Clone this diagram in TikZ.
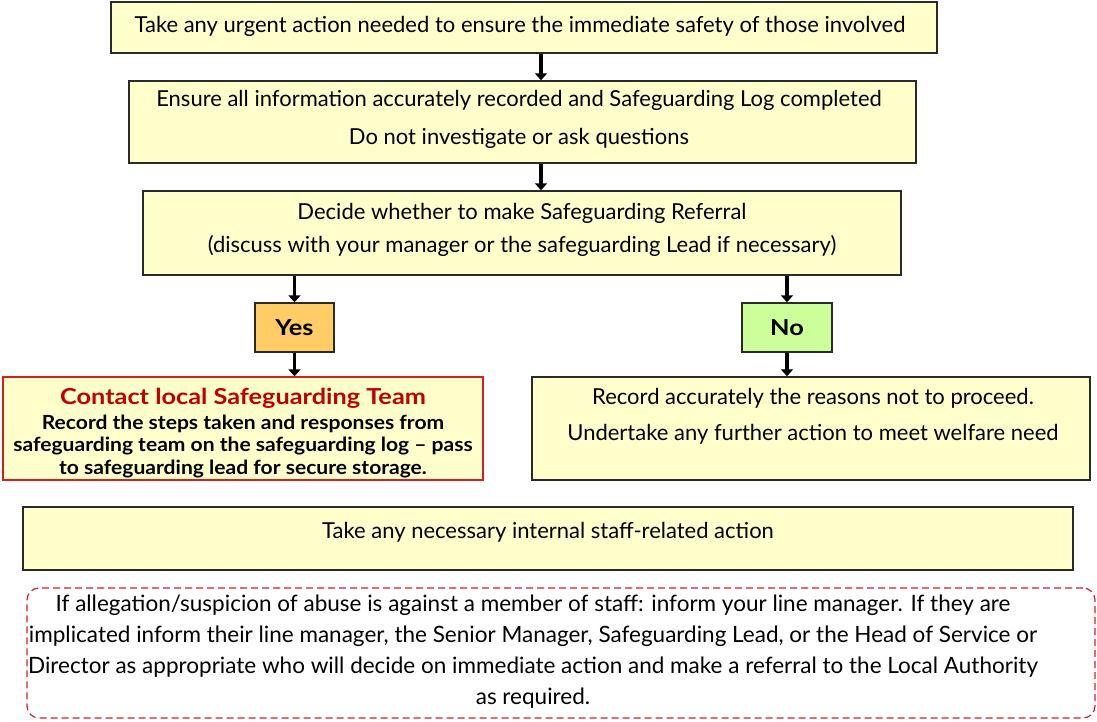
\documentclass[tikz,border=0pt]{standalone}
\usepackage{fontspec}
\setmainfont{Lato}
\newfontfamily\widebold[FakeStretch=1.15]{Lato}
\newfontfamily\semiwide[FakeStretch=1.08]{Lato}
\usetikzlibrary{arrows.meta,calc}
\definecolor{boxyellow}{HTML}{FFFFCC}
\definecolor{boxline}{HTML}{2A2A2A}
\definecolor{yesfill}{HTML}{FFCC66}
\definecolor{nofill}{HTML}{CCFF99}
\definecolor{redline}{HTML}{D42020}
\definecolor{redtext}{HTML}{C00000}
\tikzset{
  ybox/.style={draw=boxline, fill=boxyellow, line width=1.4pt, inner sep=0pt},
  rbox/.style={draw=redline, fill=boxyellow, line width=1.4pt, inner sep=0pt},
  dbox/.style={draw=redline, dashed, dash pattern=on 7pt off 4pt, line width=1.2pt, rounded corners=12pt, inner sep=0pt},
  txt/.style={align=center, inner sep=0pt, font=\fontsize{22}{38}\selectfont},
  boldlbl/.style={font=\widebold\bfseries\fontsize{22}{26}\selectfont},
  arr/.style={line width=3.2pt, -{Triangle[length=7pt,width=12pt]}},
}
\begin{document}
\begin{tikzpicture}[x=1pt,y=-1pt]
\useasboundingbox (0,0) rectangle (1097,722);
% boxes
\node[ybox, minimum width=826pt, minimum height=51pt] (b1) at (524,27.5) {};
\node[ybox, minimum width=787pt, minimum height=82pt] (b2) at (522.5,122) {};
\node[ybox, minimum width=758pt, minimum height=84pt] (b3) at (522,233) {};
\node[ybox, fill=yesfill, minimum width=79pt, minimum height=49pt, boldlbl] (yes) at (294.5,327.5) {Yes};
\node[ybox, fill=nofill, minimum width=90pt, minimum height=49pt, boldlbl] (no) at (787,327.5) {No};
\node[rbox, minimum width=480pt, minimum height=103pt] (red) at (243,428.5) {};
\node[ybox, minimum width=558pt, minimum height=103pt] (right) at (811,428.5) {};
\node[ybox, minimum width=1050pt, minimum height=63pt] (staff) at (548,538.5) {};
\node[dbox, minimum width=1068pt, minimum height=130pt] (dash) at (561,653) {};
% texts
\node[txt] (b1t) at (520,26) {Take any urgent action needed to ensure the immediate safety of those involved};
\node[txt] (b2t) at (519,119) {Ensure all information accurately recorded and Safeguarding Log completed\\Do not investigate or ask questions};
\node[txt, font=\fontsize{22}{33}\selectfont] (b3t) at (522,229.5) {Decide whether to make Safeguarding Referral\\(discuss with your manager or the safeguarding Lead if necessary)};
\node[txt, boldlbl, text=redtext] (redh) at (243,398) {Contact local Safeguarding Team};
\node[txt, font=\semiwide\bfseries\fontsize{19.5}{22.5}\selectfont] (redt) at (243,446.5) {Record the steps taken and responses from\\safeguarding team on the safeguarding log – pass\\to safeguarding lead for secure storage.};
\node[txt, font=\fontsize{22}{36}\selectfont] (rightt) at (813,416) {Record accurately the reasons not to proceed.\\Undertake any further action to meet welfare need};
\node[txt] (stafft) at (548,532) {Take any necessary internal staff-related action};
\node[txt, font=\fontsize{22.5}{31}\selectfont] (dasht) at (533,652) {If allegation/suspicion of abuse is against a member of staff: inform your line manager. If they are\\implicated inform their line manager, the Senior Manager, Safeguarding Lead, or the Head of Service or\\Director as appropriate who will decide on immediate action and make a referral to the Local Authority\\as required.};
% connectors
\coordinate (xa) at (541,0);
\draw[arr] (b1.south -| xa) -- (b2.north -| xa);
\draw[arr] (b2.south -| xa) -- (b3.north -| xa);
\draw[arr] (b3.south -| yes) -- (yes.north);
\draw[arr] (yes.south) -- (red.north -| yes);
\draw[arr] (b3.south -| no) -- (no.north);
\draw[arr] (no.south) -- (right.north -| no);
\end{tikzpicture}
\end{document}
